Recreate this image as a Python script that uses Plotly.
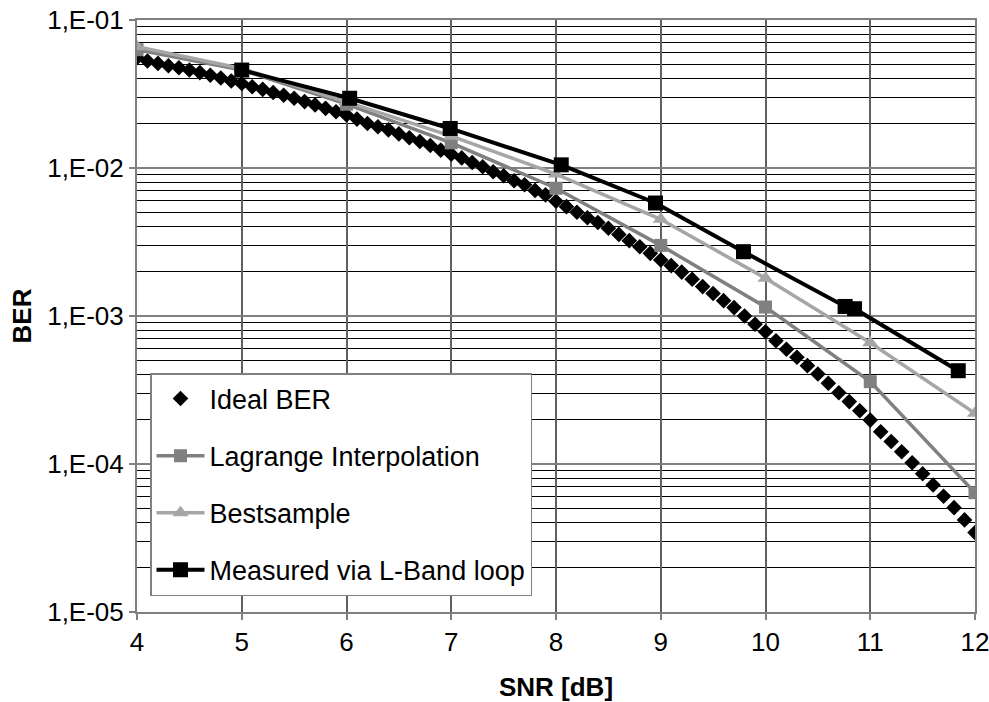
import plotly.graph_objects as go

# ---------------- data ----------------
snr_ideal = [round(4 + 0.1 * i, 1) for i in range(81)]
ber_ideal = [
    0.0556, 0.0528, 0.0509, 0.0491, 0.0476, 0.0459, 0.0441, 0.0423, 0.0406, 0.0387,
    0.0372, 0.0354, 0.0340, 0.0324, 0.0310, 0.0296, 0.0281, 0.0267, 0.0253, 0.0240,
    0.0228, 0.0214, 0.0200, 0.0190, 0.0181, 0.0170, 0.0160, 0.0151, 0.0142, 0.0132,
    0.0124, 0.0117, 0.0109, 0.0102, 0.00944, 0.00887, 0.00820, 0.00771, 0.00706, 0.00658,
    0.00596, 0.00548, 0.00502, 0.00461, 0.00428, 0.00392, 0.00356, 0.00323, 0.00294, 0.00265,
    0.00239, 0.00219, 0.00198, 0.00177, 0.00158, 0.00142, 0.00127, 0.00114, 0.00100, 0.000879,
    0.000782, 0.000681, 0.000596, 0.000526, 0.000462, 0.000406, 0.000351, 0.000303, 0.000264, 0.000229,
    0.000198, 0.000165, 0.000142, 0.000121, 0.000102, 0.0000859, 0.0000721, 0.0000605, 0.0000507, 0.0000419,
    0.0000344,
]

snr_lagrange = [4, 5, 6, 7, 8, 9, 10, 11, 12]
ber_lagrange = [0.063, 0.046, 0.027, 0.0148, 0.0073, 0.0030, 0.00115, 0.00036, 0.000064]

snr_best = [4, 5, 6, 7, 8, 9, 10, 11, 12]
ber_best = [0.066, 0.047, 0.028, 0.0164, 0.0091, 0.0045, 0.0018, 0.00066, 0.00022]

snr_meas = [5.0, 6.03, 6.99, 8.05, 8.95, 9.79, 10.76, 10.85, 11.84]
ber_meas = [0.0459, 0.0296, 0.0185, 0.0105, 0.0058, 0.00272, 0.00116, 0.00112, 0.000427]

x_ticks = [4, 5, 6, 7, 8, 9, 10, 11, 12]
y_ticks = [1e-5, 1e-4, 1e-3, 1e-2, 1e-1]
y_ticktext = ["1,E-05", "1,E-04", "1,E-03", "1,E-02", "1,E-01"]

# --------------- figure ---------------
FONT = "Liberation Sans, Arial, sans-serif"
fig = go.Figure()

fig.add_trace(go.Scatter(
    x=snr_ideal, y=ber_ideal, mode="markers", name="Ideal BER",
    marker=dict(symbol="diamond", size=12, color="black"),
    legendgroup="a",
))
fig.add_trace(go.Scatter(
    x=snr_lagrange, y=ber_lagrange, mode="lines+markers", name="Lagrange Interpolation",
    line=dict(color="#808080", width=3.5),
    marker=dict(symbol="square", size=13, color="#808080"),
    legendgroup="b",
))
fig.add_trace(go.Scatter(
    x=snr_best, y=ber_best, mode="lines+markers", name="Bestsample",
    line=dict(color="#a6a6a6", width=3.5),
    marker=dict(symbol="triangle-up", size=14, color="#a6a6a6"),
    legendgroup="c",
))
fig.add_trace(go.Scatter(
    x=snr_meas, y=ber_meas, mode="lines+markers", name="Measured via L-Band loop",
    line=dict(color="black", width=4),
    marker=dict(symbol="square", size=15, color="black"),
    legendgroup="d",
))

minor_vals = []
for e in range(-5, -1):
    for m in range(2, 10):
        minor_vals.append(m * 10 ** e)

fig.update_layout(
    width=989, height=702,
    margin=dict(l=137, r=14, t=20, b=90, autoexpand=False),
    paper_bgcolor="white", plot_bgcolor="white",
    font=dict(family=FONT, size=26, color="black"),
    showlegend=True,
    legend=dict(
        x=(150 - 137) / 838, y=(612 - 373) / 592,
        xanchor="left", yanchor="top",
        bgcolor="white", bordercolor="#808080", borderwidth=1.5,
        font=dict(family=FONT, size=27, color="black"),
        tracegroupgap=19,
        itemwidth=48,
        traceorder="grouped",
    ),
)

fig.update_xaxes(
    range=[4, 12], tickvals=x_ticks, ticktext=[str(v) for v in x_ticks],
    showgrid=True, gridcolor="#606060", gridwidth=1.5,
    showline=True, linecolor="#808080", linewidth=2, mirror=True,
    ticks="outside", ticklen=6, tickcolor="#808080", tickwidth=1.5,
    tickfont=dict(size=26), ticklabeloverflow="allow",
    title=dict(text="<b>SNR [dB]</b>", font=dict(size=26), standoff=22),
    zeroline=False, automargin=False,
)
fig.update_yaxes(
    type="log", range=[-5, -1],
    tickvals=y_ticks, ticktext=y_ticktext,
    showgrid=True, gridcolor="#808080", gridwidth=2,
    showline=True, linecolor="#808080", linewidth=2, mirror=True,
    ticks="outside", ticklen=6, tickcolor="#808080", tickwidth=1.5,
    tickfont=dict(size=26), ticklabeloverflow="allow",
    title=dict(text="<b>BER</b>", font=dict(size=26), standoff=8),
    minor=dict(tickvals=minor_vals, showgrid=True, gridcolor="black", gridwidth=1, ticks=""),
    zeroline=False, automargin=False,
)

fig.write_html(
    "out.html",
    config={"displayModeBar": False},
    post_script="document.body.style.margin='0px';document.body.style.overflow='hidden';",
)
